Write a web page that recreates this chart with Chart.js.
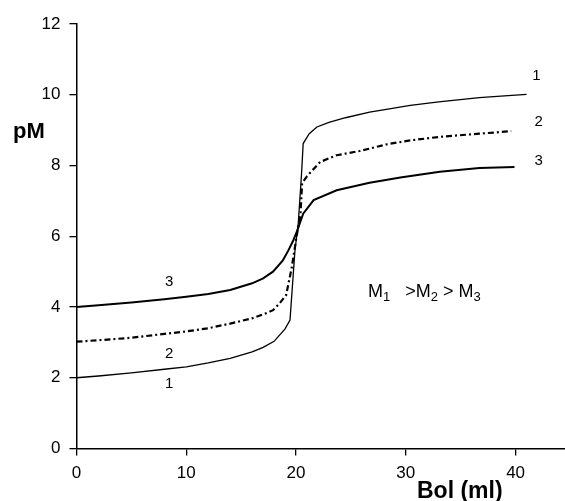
<!DOCTYPE html>
<html>
<head>
<meta charset="utf-8">
<script src="https://cdn.jsdelivr.net/npm/chart.js@4.4.1/dist/chart.umd.min.js"></script>
<style>
  html, body { margin: 0; padding: 0; background: #fff; }
  #wrap { width: 565px; height: 501px; }
</style>
</head>
<body>
<div id="wrap"><canvas id="chart" width="565" height="501"></canvas></div>
<script>
/* Titration curves pM vs Bol (ml) */

// curve 1 (thin solid)
var c1X = [0, 2, 5, 8, 10, 12, 14, 16, 17, 18, 19, 19.45, 19.9, 20.2, 20.5, 20.65, 21.2, 21.9, 23, 24.5, 26.7, 28.5, 30.4, 33, 36.7, 39, 41];
var c1Y = [2.0, 2.05, 2.14, 2.24, 2.31, 2.42, 2.55, 2.73, 2.86, 3.03, 3.38, 3.63, 5.6, 6.36, 7.77, 8.62, 8.9, 9.09, 9.22, 9.35, 9.51, 9.6, 9.7, 9.8, 9.92, 9.97, 10.01];
// curve 2 (dash-dot)
var c2X = [0, 2, 5, 8, 10, 12, 14, 16, 17, 17.9, 18.5, 19.1, 19.6, 20.05, 20.4, 20.55, 21.0, 22.2, 23.7, 25.8, 28.3, 30.4, 33.1, 36.7, 39.6];
var c2Y = [3.02, 3.06, 3.13, 3.24, 3.31, 3.4, 3.53, 3.68, 3.79, 3.91, 4.1, 4.34, 5.1, 6.0, 6.6, 7.5, 7.7, 8.1, 8.29, 8.41, 8.6, 8.71, 8.81, 8.9, 8.97];
// curve 3 (thick solid)
var c3X = [0, 2, 5, 8, 10, 12, 14, 16, 17, 17.9, 18.8, 19.3, 19.7, 20.1, 20.65, 21.6, 23.7, 26.7, 29.5, 33.1, 36.7, 39.9];
var c3Y = [4.0, 4.05, 4.13, 4.22, 4.29, 4.37, 4.48, 4.67, 4.81, 5.0, 5.32, 5.6, 5.85, 6.15, 6.64, 7.02, 7.3, 7.51, 7.66, 7.82, 7.93, 7.96];

// curve number labels
var numTexts = ['1', '2', '3', '3', '2', '1'];
var numX     = [41.9, 42.1, 42.1, 8.45, 8.45, 8.45];
var numY     = [10.53, 9.23, 8.14, 4.70, 2.67, 1.82];

// axes
var xMin = 0, xMax = 44.5, xStep = 10;
var yMin = 0, yMax = 12, yStep = 2;
var yTitle = 'pM';
var xTitle = 'Bol (ml)';

var FONT = "'Liberation Sans', Arial, sans-serif";

function pts(xs, ys) {
    var out = [];
    for (var i = 0; i < xs.length; i++) out.push({x: xs[i], y: ys[i]});
    return out;
}

/* extra texts: curve numbers, relation, axis titles */
var textPlugin = {
    id: 'texts',
    afterDraw: function(chart) {
        var ctx = chart.ctx;
        var xs = chart.scales.x, ys = chart.scales.y;
        ctx.save();
        ctx.fillStyle = '#000';
        ctx.font = '15px ' + FONT;
        ctx.textAlign = 'center';
        ctx.textBaseline = 'middle';
        for (var i = 0; i < numTexts.length; i++) {
            ctx.fillText(numTexts[i], xs.getPixelForValue(numX[i]), ys.getPixelForValue(numY[i]));
        }

        // M1 > M2 > M3 with subscripts
        var px = xs.getPixelForValue(26.55), py = ys.getPixelForValue(4.27);
        ctx.textAlign = 'left';
        ctx.textBaseline = 'alphabetic';
        var parts = [['M', 0], ['1', 1], ['   >M', 0], ['2', 1], [' > M', 0], ['3', 1]];
        for (var k = 0; k < parts.length; k++) {
            var sub = parts[k][1];
            ctx.font = (sub ? '13px ' : '18px ') + FONT;
            ctx.fillText(parts[k][0], px, py + (sub ? 4 : 0));
            px += ctx.measureText(parts[k][0]).width;
        }

        ctx.font = 'bold 22px ' + FONT;
        ctx.textAlign = 'left';
        ctx.fillText(yTitle, 13, 137.5);
        ctx.font = 'bold 23px ' + FONT;
        ctx.fillText(xTitle, 417, 498);
        ctx.restore();
    }
};

new Chart(document.getElementById('chart'), {
    type: 'scatter',
    data: {
        datasets: [
            {label: '1', data: pts(c1X, c1Y), showLine: true, borderColor: '#000', borderWidth: 1.3, pointRadius: 0, tension: 0},
            {label: '2', data: pts(c2X, c2Y), showLine: true, borderColor: '#000', borderWidth: 2.2, borderDash: [6, 3, 2, 3], pointRadius: 0, tension: 0},
            {label: '3', data: pts(c3X, c3Y), showLine: true, borderColor: '#000', borderWidth: 2, pointRadius: 0, tension: 0}
        ]
    },
    options: {
        responsive: false,
        animation: false,
        layout: {padding: {top: 24, right: 0, left: 0, bottom: 0}},
        plugins: {legend: {display: false}, tooltip: {enabled: false}},
        scales: {
            x: {
                type: 'linear', min: xMin, max: xMax,
                grid: {drawOnChartArea: false, drawTicks: true, tickLength: 7, color: '#000', lineWidth: 1.3},
                border: {color: '#000', width: 1.5},
                ticks: {stepSize: xStep, includeBounds: false, color: '#000', padding: 8, maxRotation: 0, font: {size: 17, family: FONT}},
                afterFit: function(s) { s.height = 52.5; }
            },
            y: {
                type: 'linear', min: yMin, max: yMax,
                grid: {drawOnChartArea: false, drawTicks: true, tickLength: 7, color: '#000', lineWidth: 1.3},
                border: {color: '#000', width: 1.5},
                ticks: {stepSize: yStep, color: '#000', padding: 9, font: {size: 17, family: FONT}},
                afterFit: function(s) { s.width = 76.5; }
            }
        }
    },
    plugins: [textPlugin]
});
</script>
</body>
</html>
